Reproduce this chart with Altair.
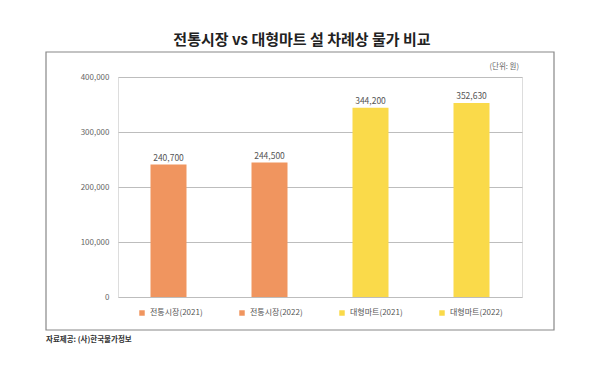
import altair as alt
import pandas as pd

categories = ["전통시장(2021)", "전통시장(2022)", "대형마트(2021)", "대형마트(2022)"]
values = [240700, 244500, 344200, 352630]
colors = ["#F0955F", "#F0955F", "#FADA4A", "#FADA4A"]
y_ticks = [0, 100000, 200000, 300000, 400000]

title_text = "전통시장 vs 대형마트 설 차례상 물가 비교"
unit_text = "(단위: 원)"
source_text = "자료제공: (사)한국물가정보"

FONT = "Noto Sans CJK KR"

df = pd.DataFrame({"cat": categories, "val": values})
df["lbl"] = df["val"].map(lambda v: f"{v:,}")

W, H = 404, 220

x = alt.X("cat:N", sort=categories, axis=None,
          scale=alt.Scale(paddingInner=0, paddingOuter=0))
y = alt.Y("val:Q", scale=alt.Scale(domain=[0, 400000], nice=False),
          axis=alt.Axis(values=y_ticks, title=None, format=",d", domain=False,
                        ticks=False, labelPadding=9, labelFont=FONT,
                        labelFontSize=8, labelColor="#666666",
                        gridColor="#bdbdbd", gridWidth=1))

base = alt.Chart(df)

bars = base.mark_bar(size=36).encode(
    x=x, y=y,
    color=alt.Color("cat:N", scale=alt.Scale(domain=categories, range=colors),
                    legend=alt.Legend(orient="none", legendX=20, legendY=12 + H,
                                      direction="horizontal", title=None,
                                      symbolType="square", symbolSize=30,
                                      labelFont=FONT, labelFontSize=8,
                                      labelColor="#555555", columnPadding=35,
                                      symbolStrokeWidth=0)),
)

labels = base.mark_text(dy=-7, font=FONT, fontSize=8.5, color="#555555").encode(
    x=x, y="val:Q", text="lbl:N"
)

box = alt.Chart(pd.DataFrame({"a": [0]})).mark_rect(
    fill=None, stroke="#888888", strokeWidth=1.2
).encode(x=alt.value(-72), x2=alt.value(436), y=alt.value(-25), y2=alt.value(253))

title = alt.Chart(pd.DataFrame({"t": [title_text]})).mark_text(
    font=FONT, fontSize=15, fontWeight="bold", color="#222222"
).encode(x=alt.value(184), y=alt.value(-37), text="t:N")

unit = alt.Chart(pd.DataFrame({"t": [unit_text]})).mark_text(
    font=FONT, fontSize=7.5, color="#666666", align="right"
).encode(x=alt.value(401), y=alt.value(-10), text="t:N")

source = alt.Chart(pd.DataFrame({"t": [source_text]})).mark_text(
    font=FONT, fontSize=7.5, fontWeight="bold", color="#333333", align="left"
).encode(x=alt.value(-72), y=alt.value(263), text="t:N")

chart = alt.layer(box, bars, labels, title, unit, source).properties(
    width=W, height=H,
    autosize=alt.AutoSizeParams(type="none"),
    padding={"left": 118, "top": 77, "right": 600 - 118 - W, "bottom": 375 - 77 - H},
).configure_view(stroke=None).configure(background="white")

chart.save("out.html", embed_options={"renderer": "svg", "actions": False})
